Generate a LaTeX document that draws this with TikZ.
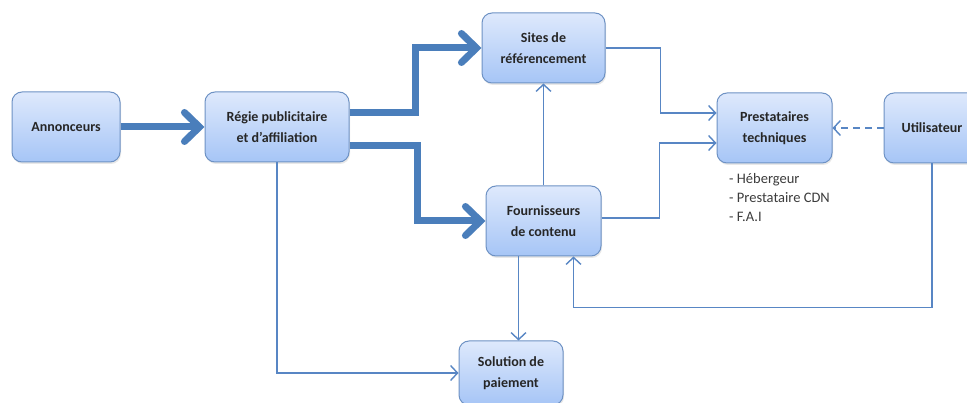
\documentclass[tikz,border=0pt]{standalone}
\usepackage{fontspec}
\setmainfont{Carlito}
\usetikzlibrary{arrows.meta,shadows,calc}
\definecolor{boxtop}{RGB}{222,233,252}
\definecolor{boxbot}{RGB}{166,197,246}
\definecolor{boxline}{RGB}{110,146,196}
\definecolor{arr}{RGB}{74,126,187}
\definecolor{thinarr}{RGB}{88,134,196}
\definecolor{listtext}{RGB}{60,60,60}
\tikzset{
  box/.style={draw=boxline, line width=1pt, rounded corners=10pt,
    top color=boxtop, bottom color=boxbot, align=center,
    font=\fontsize{14}{21}\selectfont\bfseries, text=black!85,
    minimum height=70pt, inner sep=0pt,
    drop shadow={opacity=0.18, shadow xshift=1pt, shadow yshift=-2pt}},
  bigarrow/.style={draw=arr, line width=7pt,
    -{Straight Barb[length=15pt,width=29pt,line cap=round]}},
  thinarrow/.style={draw=thinarr, line width=1.4pt,
    -{Straight Barb[length=7pt,width=15pt]}},
  dasharrow/.style={thinarrow, dash pattern=on 7pt off 5pt},
  listnode/.style={align=left, anchor=north west, inner sep=0pt,
    font=\fontsize{14.5}{19}\selectfont, text=listtext}
}
\begin{document}
\begin{tikzpicture}[x=1pt,y=-1pt]
\clip (0,0) rectangle (967,403);
\fill[white] (0,0) rectangle (967,403);
\node[box, minimum width=108pt] (ann) at (66,127) {Annonceurs};
\node[box, minimum width=144pt] (reg) at (277,127) {Régie publicitaire\\et d'affiliation};
\node[box, minimum width=123pt] (sites) at (543.5,48) {Sites de\\référencement};
\node[box, minimum width=115pt] (four) at (543.5,221) {Fournisseurs\\de contenu};
\node[box, minimum width=115pt] (prest) at (774.5,128) {Prestataires\\techniques};
\node[box, minimum width=96pt] (util) at (932,128) {Utilisateur};
\node[box, minimum width=104pt, minimum height=64pt] (sol) at (511,373) {Solution de\\paiement};
\node[listnode] (list) at (729,173) {- Hébergeur\\- Prestataire CDN\\- F.A.I};

\draw[bigarrow] (ann.east) -- (reg.west);
\draw[bigarrow, rounded corners=0pt] ([yshift=14pt]reg.east) -- ++(66,0) |- (sites.west);
\draw[bigarrow, rounded corners=0pt] ([yshift=-19pt]reg.east) -- ++(68,0) |- (four.west);

\draw[thinarrow] (four.north) -- (sites.south);
\draw[thinarrow] (sites.east) -- ++(55,0) |- ([yshift=15pt]prest.west);
\draw[thinarrow] ([yshift=3pt]four.east) -- ++(58,0) |- ([yshift=-15pt]prest.west);
\draw[dasharrow] (util.west) -- (prest.east);
\draw[thinarrow] (util.south) -- ++(0,144) -| ([xshift=30pt]four.south);
\draw[thinarrow] ([xshift=-25pt]four.south) -- ([xshift=-25pt]four.south |- sol.north);
\draw[thinarrow] (reg.south) |- (sol.west);
\end{tikzpicture}
\end{document}
